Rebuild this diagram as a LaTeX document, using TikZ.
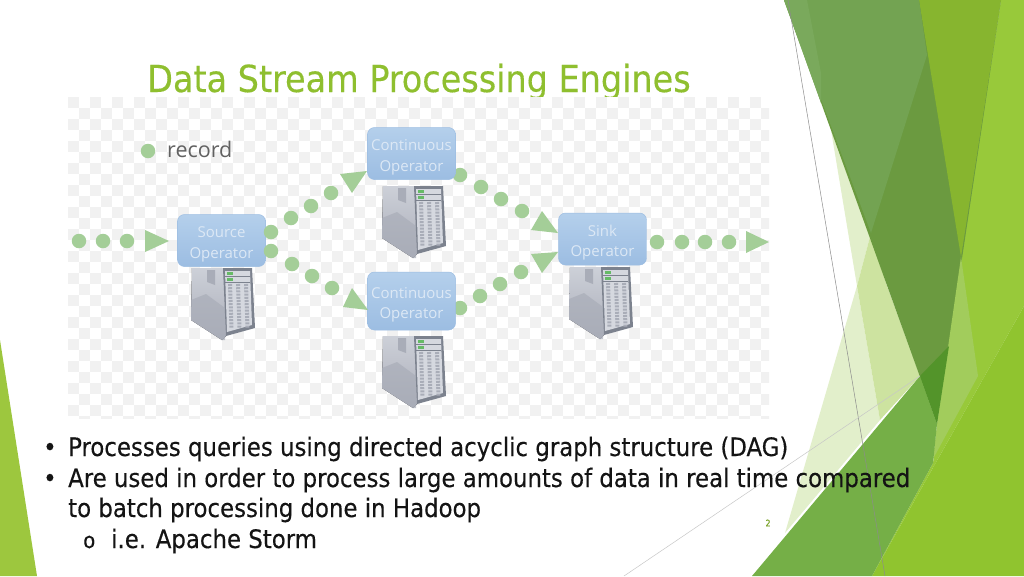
\documentclass[tikz,border=0pt]{standalone}
\usepackage{fontspec}
\setmainfont[FakeBold=0.3]{DejaVu Sans Condensed}
\newfontfamily\figfont{Open Sans}
\usetikzlibrary{calc,positioning}
\definecolor{titlegreen}{HTML}{8FBF2F}
\definecolor{recgreen}{HTML}{A4CE98}
\definecolor{opblue}{HTML}{A7C7E8}
\definecolor{opedge}{HTML}{9CBDE2}
\definecolor{optext}{HTML}{DCE8F5}
\definecolor{tilegray}{HTML}{F1F1F1}
\definecolor{leftgreen}{HTML}{9DC73E}
\definecolor{bandtop}{HTML}{73A352}
\definecolor{bandtopedge}{HTML}{7AA95C}
\definecolor{banddark}{HTML}{6B9A40}
\definecolor{bandmid}{HTML}{87B52F}
\definecolor{bandright}{HTML}{98C93A}
\definecolor{bandlow}{HTML}{90C42F}
\definecolor{bandwedge}{HTML}{A2CC5C}
\definecolor{bandgrass}{HTML}{75AF47}
\definecolor{bandknot}{HTML}{53942A}
\definecolor{palea}{HTML}{E2EFCB}
\definecolor{paleb}{HTML}{CDE3A0}
\definecolor{srvlight}{HTML}{CDD0D8}
\definecolor{srvmid}{HTML}{A9ADB8}
\definecolor{srvdark}{HTML}{7C828E}
\definecolor{srvrack}{HTML}{D5D8DF}
\newcommand{\rectri}[3]{\fill[recgreen] #1 -- #2 -- #3 -- cycle;}
\newcommand{\oplabel}[1]{\rule{0pt}{19pt}#1\\Operator}
\begin{document}
\begin{tikzpicture}
[x=1pt,y=-1pt,>=stealth,
recdot/.style = {circle, fill = recgreen, inner sep = 0pt, minimum size = 14.5pt},
operator/.style = {draw = opedge, line width = .5pt, rounded corners = 7pt, top color = opblue!85!white, bottom color = opedge, minimum width = 88pt, minimum height = 52pt, inner sep = 0pt, align = center, text = optext, font = \figfont\fontsize{15}{20.5}\selectfont},
body/.style = {anchor = base west, inner sep = 0pt, text = black!92, font = \fontsize{25.4}{25.4}\selectfont},
server/.pic = {
\fill[top color = srvlight, bottom color = srvmid] (-28,0) -- (5,0) -- (6,68) -- (2,72) -- (-29,52) -- cycle;
\fill[srvmid,opacity=.7] (-29,32) -- (-14,26) -- (5,40) -- (5,72) -- (2,72) -- (-29,52) -- cycle;
\fill[srvmid] (-13,2) -- (-5,2) -- (-5,17) -- (-13,14) -- cycle;
\fill[srvdark] (3,0) -- (32,0) -- (35,60) -- (6,68) -- cycle;
\fill[srvrack] (5,3) -- (30,3) -- (32,57) -- (7,64) -- cycle;
\fill[green!55!black!60] (7,4) rectangle (13,7);
\fill[green!55!black!60] (7,10) rectangle (13,13);
\draw[srvdark,line width=.5pt] (5,8.5) -- (30,8.5) (5,14.5) -- (30,14.5);
\foreach \colx in {10,18,26}
\draw[srvmid,line width=4pt,dash pattern=on 2pt off 1.2pt] (\colx,16) -- (\colx+1.5,60);
}]
\useasboundingbox (0,0) rectangle (1024,576);
% slide background
\fill[white] (0,0) rectangle (1024,576);
\fill[leftgreen] (0,340) -- (37,576) -- (0,576) -- cycle;
\fill[bandright] (1001,0) -- (1024,0) -- (1024,306) -- (872,576) -- (933,463) -- (961,257) -- cycle;
\fill[palea] (831,130) -- (871,233) -- (857,286) -- (880,420) -- (785,533) -- (857,286) -- cycle;
\fill[paleb] (871,233) -- (887,286) -- (920,376) -- (880,420) -- (857,286) -- cycle;
\fill[banddark] (784,0) -- (1001,0) -- (937,424) -- cycle;
\fill[bandmid] (919,0) -- (1001,0) -- (961,257) -- cycle;
\fill[bandtop] (784,0) -- (919,0) -- (927,55) -- (871,233) -- cycle;
\fill[bandtopedge] (784,0) -- (807,0) -- (821,73) -- (821,103) -- cycle;
\fill[bandwedge] (961,257) -- (978,376) -- (933,459) -- (937,424) -- cycle;
\fill[bandlow] (1024,306) -- (1024,576) -- (872,576) -- cycle;
\fill[bandgrass] (920,376) -- (937,424) -- (933,463) -- (872,576) -- (752,576) -- cycle;
\fill[bandknot] (949,346) -- (937,424) -- (920,376) -- cycle;
\coordinate (lineAa) at (788,0);
\coordinate (lineAb) at (885,576);
\coordinate (lineBa) at (624,576);
\coordinate (lineBb) at (920,376);
\draw[black!45,line width=.5pt] (lineAa) -- (lineAb);
\draw[black!22,line width=.5pt] (lineBa) -- (lineBb);
% title sits under the picture
\node (title) at (147,92) [anchor=base west,inner sep=0pt,text=titlegreen,font=\fontsize{37.2}{37.2}\selectfont] {Data Stream Processing Engines};
% picture with checker tiles
\fill[white] (68,97) rectangle (769,418);
\begin{scope}
\clip (68,97) rectangle (769,418);
\foreach \tilex in {0,...,63}
\foreach \tiley in {0,...,29}
{
\pgfmathtruncatemacro{\tileodd}{mod(\tilex+\tiley,2)}
\ifnum\tileodd=0
\fill[tilegray] (68+\tilex*11,97+\tiley*11) rectangle ++(11,11);
\fi
}
\end{scope}
\node (recdotkey) at (148,151) [recdot] {};
\node (record) at (167,149) [anchor=west,inner sep=0pt,text=black!62,font=\figfont\fontsize{21.5}{21.5}\selectfont] {record};
% servers, then the operators over them
\pic at (220,268) {server};
\pic at (411,186) {server};
\pic at (411,336) {server};
\pic at (598,267) {server};
\node (source) at (221.5,240.5) [operator] {\oplabel{Source}};
\node (sink) at (602.5,239) [operator] {\oplabel{Sink}};
% records
\foreach \dotx/\doty in {79/241,103/241,127/241,271/232,291/218,311/206,331/193,271/251,292/264,312/276,332/288,460/175,481/187,501/199,522/211,460/308,480/296,500/284,521/272,657/242,682/242,705/242,729/242}
\node at (\dotx,\doty) [recdot] {};
\node (contA) at (411.5,153.5) [operator] {\oplabel{Continuous}};
\node (contB) at (411.5,301) [operator,minimum height=58pt] {\oplabel{Continuous}};
\rectri{(145,230)}{(169,241)}{(145,252)}
\rectri{(340,174)}{(367,171)}{(352,193)}
\rectri{(352,288)}{(368,310)}{(343,307)}
\rectri{(542,211)}{(558,233)}{(531,230)}
\rectri{(531,254)}{(558,252)}{(542,273)}
\rectri{(746,231)}{(769,242)}{(746,253)}
% text
\node (bulA) at (43,456) [body] {•};
\node (lineA) at (68,456) [body] {Processes queries using directed acyclic graph structure (DAG)};
\node (bulB) at (43,487) [body] {•};
\node (lineB) at (68,487) [body] {Are used in order to process large amounts of data in real time compared};
\node (lineC) at (68,517) [body] {to batch processing done in Hadoop};
\node (bulC) at (83,548) [body,font=\fontsize{22}{22}\selectfont] {o};
\node (lineD) at (111,548) [body] {i.e. Apache Storm};
\node (pagenum) at (768,523) [inner sep=0pt,text=titlegreen!85!black,font=\fontsize{9}{9}\selectfont] {2};
\end{tikzpicture}
\end{document}
